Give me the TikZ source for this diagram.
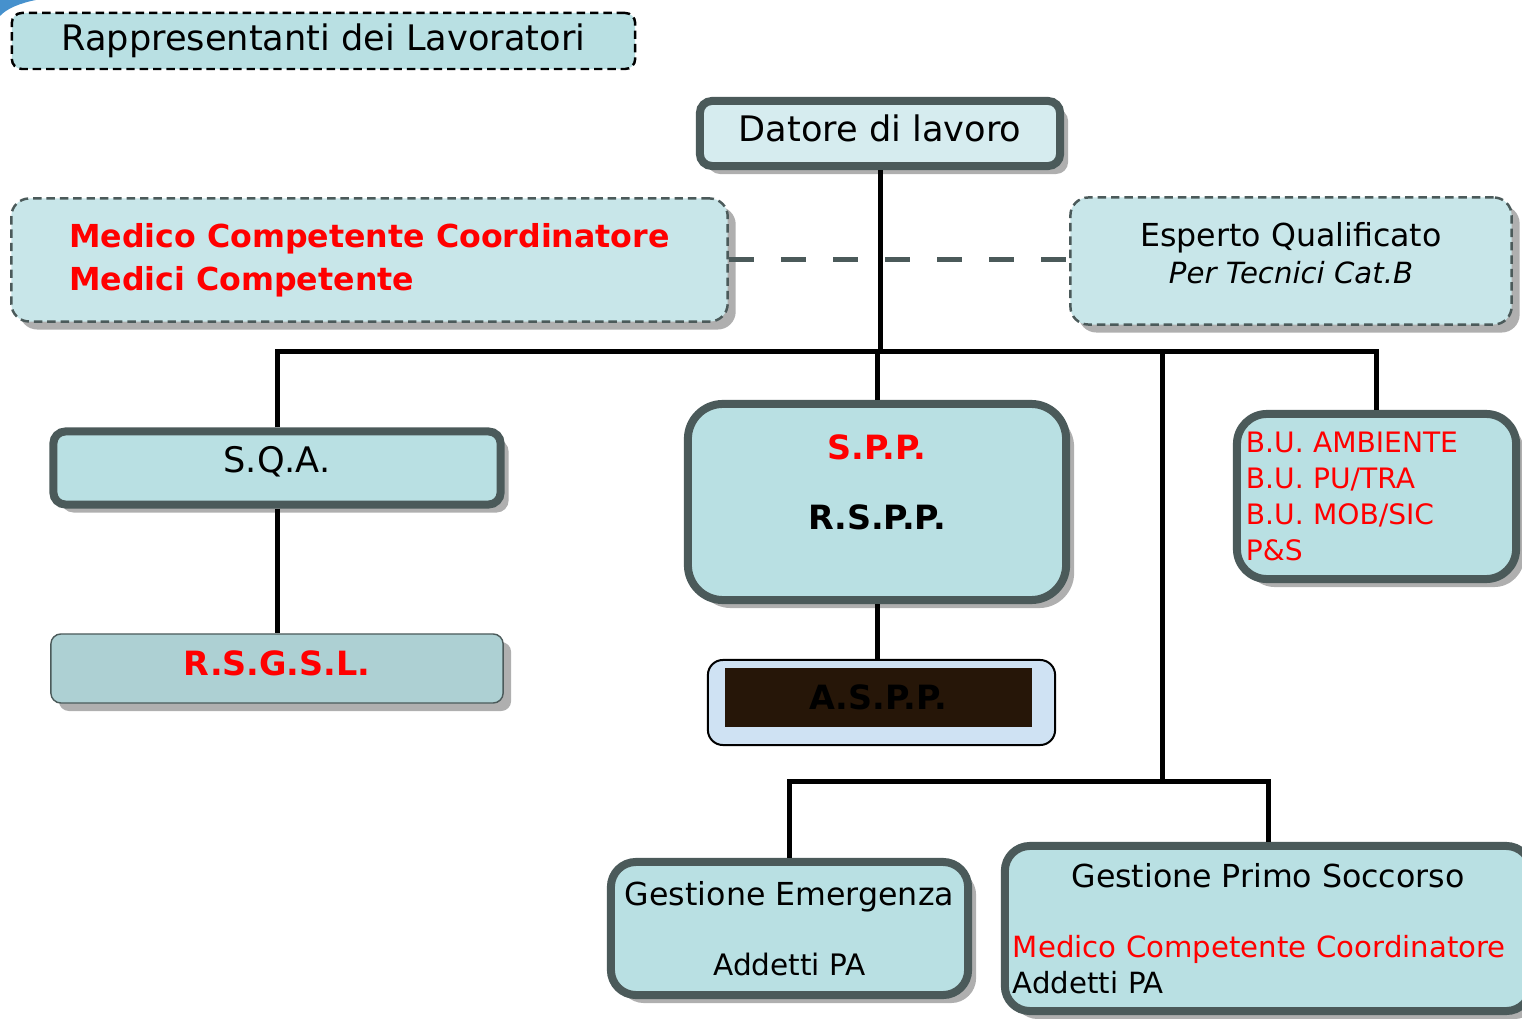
\documentclass[tikz,border=0pt]{standalone}
\usepackage{fontspec}
\setmainfont{DejaVu Sans}
\usetikzlibrary{shadows}
\tikzset{
  slide/.style={
    x=0.01cm,
    y=-0.01cm
  },
  box-shadow/.style={
    drop shadow={shadow xshift=0.08cm, shadow yshift=-0.08cm, fill=shadegray, opacity=1}
  },
  box-thick/.style={
    rectangle,
    draw=framegray,
    line width=0.08cm,
    fill=boxblue,
    inner sep=0pt,
    align=center,
    box-shadow
  },
  box-dash/.style={
    rectangle,
    draw=framegray,
    line width=0.7pt,
    dash pattern=on 2.4pt off 1.4pt,
    fill=boxpale,
    inner sep=0pt
  },
  box-thin/.style={
    rectangle,
    draw=framegray,
    line width=0.4pt,
    fill=boxdark,
    inner sep=0pt,
    align=center,
    box-shadow
  },
  link/.style={line width=0.05cm, draw=black},
  link-dash/.style={line width=0.05cm, draw=framegray, dash pattern=on 0.25cm off 0.27cm}
}
\definecolor{boxblue}{RGB}{185,224,227}
\definecolor{boxpale}{RGB}{200,230,233}
\definecolor{boxlight}{RGB}{214,236,239}
\definecolor{boxdark}{RGB}{173,208,211}
\definecolor{framegray}{RGB}{75,90,90}
\definecolor{shadegray}{RGB}{175,175,175}
\definecolor{asppblue}{RGB}{207,226,243}
\definecolor{asppdark}{RGB}{38,22,8}
\definecolor{swoosh}{RGB}{70,145,205}
\newcommand{\pageframe}{
  \useasboundingbox (0,0) rectangle (1522,1019);
}
% empty last line, lifts the text a little
\newcommand{\lift}[1]{\\[#1]\mbox{}}

\begin{document}
\begin{tikzpicture}[slide]
  \pageframe
  % corner of the slide
  \fill[swoosh] (0,0) -- (36,0) .. controls (20,3) and (6,9) .. (0,16) -- cycle;
  % Top row
  \node[box-dash, draw=black, fill=boxblue, rounded corners=0.1cm, minimum width=6.23cm, minimum height=0.56cm, font=\fontsize{10}{12}\selectfont] (rdl) at (323.5,41) {Rappresentanti dei Lavoratori};
  \node[box-thick, fill=boxlight, rounded corners=0.12cm, minimum width=3.6cm, minimum height=0.65cm, font=\fontsize{10}{12}\selectfont] (datore) at (880,133.5) {Datore di lavoro\lift{-9.2pt}};
  % Advisors
  \node[box-dash, box-shadow, rounded corners=0.18cm, minimum width=7.16cm, minimum height=1.23cm, align=left, text=red, font=\fontsize{9}{12.2}\selectfont\bfseries] (medico) at (369.5,260) {Medico Competente Coordinatore\\Medici Competente};
  \node[box-dash, box-shadow, rounded corners=0.18cm, minimum width=4.41cm, minimum height=1.27cm, align=center, font=\fontsize{9}{10.5}\selectfont] (esperto) at (1291,261) {Esperto Qualificato\\{\fontsize{8.3}{10.5}\selectfont\itshape Per Tecnici Cat.B}\lift{-5.9pt}};
  % Middle row
  \node[box-thick, rounded corners=0.12cm, minimum width=4.47cm, minimum height=0.73cm, font=\fontsize{10}{12}\selectfont] (sqa) at (277,468) {S.Q.A.\lift{-7.1pt}};
  \node[box-thick, rounded corners=0.35cm, minimum width=3.78cm, minimum height=1.96cm, font=\fontsize{9.5}{11.5}\selectfont\bfseries] (spp) at (877,502) {\textcolor{red}{S.P.P.}\\[8.5pt]R.S.P.P.\lift{0pt}};
  \node[box-thick, rounded corners=0.3cm, minimum width=2.79cm, minimum height=1.65cm, text width=2.61cm, align=left, text=red, font=\fontsize{8}{10.2}\selectfont] (bu) at (1376.5,496.5) {B.U.~AMBIENTE\\B.U.~PU/TRA\\B.U.~MOB/SIC\\P\&S};
  \node[box-thin, rounded corners=0.1cm, minimum width=4.52cm, minimum height=0.69cm, text=red, font=\fontsize{9.5}{11.5}\selectfont\bfseries] (rsgsl) at (277,668.5) {R.S.G.S.L.\lift{-8.7pt}};
  \node[draw=black, line width=0.02cm, fill=asppblue, rounded corners=0.15cm, minimum width=3.47cm, minimum height=0.85cm, inner sep=0pt] (aspp) at (881.5,702.5) {};
  \node[fill=asppdark, minimum width=3.07cm, minimum height=0.59cm, inner sep=0pt, font=\fontsize{9.5}{11.5}\selectfont\bfseries] (aspp-text) at (878.5,697.5) {A.S.P.P.};
  % Bottom row
  \node[box-thick, rounded corners=0.25cm, minimum width=3.57cm, minimum height=1.33cm, font=\fontsize{9}{11}\selectfont] (gem) at (789.5,928.5) {Gestione Emergenza\\[9pt]{\fontsize{8.4}{11}\selectfont Addetti PA}};
  \node[box-thick, rounded corners=0.25cm, minimum width=5.26cm, minimum height=1.65cm, text width=5.1cm, align=left, font=\fontsize{8.3}{10}\selectfont] (gps) at (1268,928.5) {\makebox[5.1cm]{\fontsize{9}{10}\selectfont Gestione Primo Soccorso}\\[10pt]\textcolor{red}{Medico Competente Coordinatore}\\Addetti PA};
  % Connectors
  \coordinate (bus) at (880,352);
  \coordinate (fork) at (1162,352);
  \coordinate (fork-low) at (1162,781);
  \draw[link-dash] (medico.east) -- (medico.east -| esperto.west);
  \draw[link] (datore.south) -- (bus);
  \draw[link] (sqa.north) |- (bus) -| (bu.north);
  \draw[link] (bus -| spp.north) -- (spp.north);
  \draw[link] (sqa.south) -- (rsgsl.north);
  \draw[link] (spp.south) -- (spp.south |- aspp.north);
  \draw[link] (fork) -- (fork-low);
  \draw[link] (gem.north) |- (fork-low) -| (gps.north);
\end{tikzpicture}
\end{document}
